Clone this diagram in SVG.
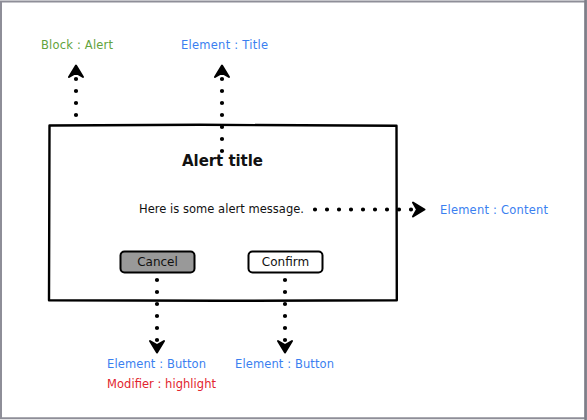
<svg xmlns="http://www.w3.org/2000/svg" width="587" height="420" viewBox="0 0 587 420">
<style>
.lbl{font-family:"DejaVu Sans","Liberation Sans",Arial,sans-serif;font-size:11.5px;dominant-baseline:central}
.blue{fill:#3b7ff0}
.green{fill:#62a33c}
.red{fill:#e2242e}
.txt{font-family:"DejaVu Sans","Liberation Sans",Arial,sans-serif;fill:#111;dominant-baseline:central}
.dots{fill:none;stroke:#000;stroke-width:4.2;stroke-linecap:round;stroke-dasharray:0 12}
.head{fill:#000;stroke:#000;stroke-width:2;stroke-linejoin:round}
.btn{stroke:#000;stroke-width:2}
</style>
<rect x="0" y="0" width="587" height="420" fill="#fff"/>
<g id="frame">
<path d="M1 1.5 H585.5 V418.2 H1 Z" fill="none" stroke="#8e8e98" stroke-width="2"/>
<line x1="585.6" y1="0" x2="585.6" y2="420" stroke="#7e7e88" stroke-width="2.6"/>
</g>
<g id="alert">
<path d="M49.5 125.5 L200 124.8 L396.5 125.8 L396.8 300.2 L220 300.8 L49 300.3 Z" fill="#fff" stroke="#000" stroke-width="2.4" stroke-linejoin="round"/>
<text class="txt" x="182" y="161" font-size="15" font-weight="bold" textLength="81">Alert title</text>
<text class="txt" x="139" y="209" font-size="11.5" textLength="165">Here is some alert message.</text>
</g>
<g id="cancel">
<rect class="btn" x="120.5" y="251.5" width="74" height="21" rx="4" fill="#999"/>
<text class="txt" x="157.5" y="262" text-anchor="middle" font-size="12">Cancel</text>
</g>
<g id="confirm">
<rect class="btn" x="248.5" y="251.5" width="74" height="21" rx="4" fill="#fff"/>
<text class="txt" x="285.5" y="262" text-anchor="middle" font-size="12">Confirm</text>
</g>
<g id="connectors">
<line class="dots" x1="76" y1="115" x2="76" y2="78"/>
<path class="head" d="M76 65.5 L83 77 L76 73 L69 77 Z"/>
<line class="dots" x1="222" y1="151" x2="222" y2="78"/>
<path class="head" d="M222 65.5 L229 77 L222 73 L215 77 Z"/>
<line class="dots" x1="315" y1="209.5" x2="412" y2="209.5"/>
<path class="head" d="M424.5 209.5 L413 216.5 L417 209.5 L413 202.5 Z"/>
<line class="dots" x1="157" y1="280" x2="157" y2="341"/>
<path class="head" d="M157 352.5 L150 341 L157 345 L164 341 Z"/>
<line class="dots" x1="285" y1="280" x2="285" y2="341"/>
<path class="head" d="M285 352.5 L278 341 L285 345 L292 341 Z"/>
</g>
<g id="label-block">
<text class="lbl green" x="41" y="45" textLength="72">Block : Alert</text>
</g>
<g id="label-title">
<text class="lbl blue" x="181" y="45" textLength="87">Element : Title</text>
</g>
<g id="label-content">
<text class="lbl blue" x="440" y="209.5" textLength="108">Element : Content</text>
</g>
<g id="label-cancel">
<text class="lbl blue" x="107" y="363.5" textLength="99">Element : Button</text>
<text class="lbl red" x="107" y="383.5" textLength="109">Modifier : highlight</text>
</g>
<g id="label-confirm">
<text class="lbl blue" x="235" y="363.5" textLength="99">Element : Button</text>
</g>
</svg>
